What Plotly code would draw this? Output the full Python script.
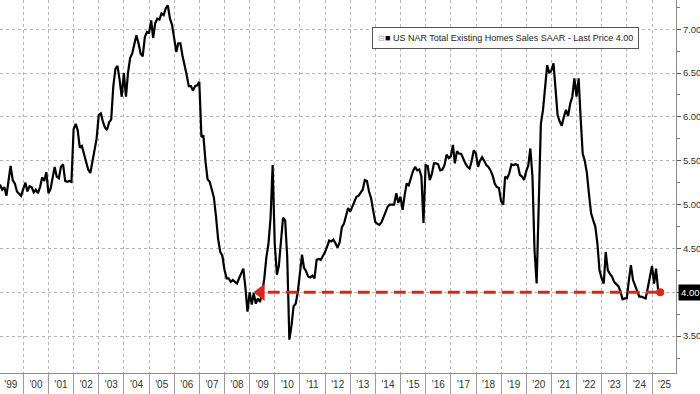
import pandas as pd
import plotly.graph_objects as go

# Monthly US NAR Total Existing Home Sales SAAR (millions), Dec-1998 .. Apr-2025
sales_1998 = [5.22]
sales_1999 = [5.22, 5.17, 5.20, 5.10, 5.30, 5.44, 5.28, 5.24, 5.15, 5.12, 5.10, 5.18]
sales_2000 = [5.25, 5.15, 5.21, 5.20, 5.14, 5.17, 5.13, 5.20, 5.31, 5.27, 5.37, 5.13]
sales_2001 = [5.18, 5.30, 5.43, 5.32, 5.30, 5.43, 5.46, 5.27, 5.26, 5.27, 5.26, 5.86]
sales_2002 = [5.92, 5.85, 5.65, 5.67, 5.58, 5.48, 5.40, 5.36, 5.50, 5.66, 5.75, 6.02]
sales_2003 = [6.04, 5.95, 5.88, 5.85, 5.94, 5.97, 6.35, 6.55, 6.58, 6.42, 6.23, 6.50]
sales_2004 = [6.23, 6.50, 6.67, 6.72, 6.84, 6.93, 6.84, 6.72, 6.69, 6.91, 6.97, 6.96]
sales_2005 = [7.10, 6.90, 7.07, 7.12, 7.11, 7.18, 7.16, 7.24, 7.27, 7.12, 7.05, 6.88]
sales_2006 = [6.74, 6.84, 6.84, 6.70, 6.60, 6.48, 6.35, 6.35, 6.30, 6.35, 6.36, 6.40]
sales_2007 = [5.77, 5.79, 5.49, 5.29, 5.26, 5.17, 5.08, 4.86, 4.61, 4.46, 4.42, 4.26]
sales_2008 = [4.16, 4.16, 4.12, 4.14, 4.12, 4.10, 4.16, 4.22, 4.27, 4.05, 3.78, 4.00]
sales_2009 = [3.86, 3.99, 3.87, 3.93, 3.89, 4.00, 4.15, 4.40, 4.55, 4.85, 5.45, 4.55]
sales_2010 = [4.20, 4.30, 4.62, 4.85, 4.82, 4.40, 3.46, 3.62, 3.84, 3.87, 4.00, 4.20]
sales_2011 = [4.43, 4.28, 4.24, 4.18, 4.17, 4.19, 4.16, 4.37, 4.38, 4.37, 4.41, 4.46]
sales_2012 = [4.52, 4.59, 4.58, 4.60, 4.56, 4.51, 4.57, 4.74, 4.78, 4.86, 4.96, 4.92]
sales_2013 = [4.98, 5.05, 5.09, 5.10, 5.13, 5.17, 5.28, 5.27, 5.15, 5.07, 4.93, 4.80]
sales_2014 = [4.78, 4.77, 4.80, 4.86, 4.93, 4.98, 5.00, 5.00, 5.00, 5.13, 5.02, 5.09]
sales_2015 = [4.94, 5.10, 5.24, 5.22, 5.30, 5.38, 5.43, 5.39, 5.40, 5.32, 4.79, 5.45]
sales_2016 = [5.44, 5.28, 5.35, 5.47, 5.47, 5.46, 5.39, 5.40, 5.45, 5.57, 5.53, 5.55]
sales_2017 = [5.68, 5.47, 5.61, 5.58, 5.58, 5.52, 5.47, 5.43, 5.41, 5.50, 5.62, 5.58]
sales_2018 = [5.43, 5.50, 5.54, 5.50, 5.45, 5.43, 5.39, 5.33, 5.24, 5.20, 5.19, 5.04]
sales_2019 = [5.00, 5.32, 5.30, 5.36, 5.46, 5.45, 5.46, 5.45, 5.34, 5.32, 5.28, 5.38]
sales_2020 = [5.45, 5.64, 5.32, 4.48, 4.10, 5.00, 5.92, 6.08, 6.32, 6.59, 6.50, 6.53]
sales_2021 = [6.61, 6.27, 6.02, 5.95, 5.90, 6.00, 6.08, 6.01, 6.15, 6.23, 6.44, 6.23]
sales_2022 = [6.44, 6.00, 5.58, 5.50, 5.36, 5.12, 4.90, 4.82, 4.75, 4.55, 4.25, 4.16]
sales_2023 = [4.10, 4.46, 4.25, 4.21, 4.18, 4.12, 4.09, 4.07, 4.01, 3.92, 3.93, 3.93]
sales_2024 = [4.14, 4.31, 4.14, 4.08, 4.01, 3.95, 3.95, 3.94, 3.93, 4.05, 4.18, 4.30]
sales_2025 = [4.10, 4.27, 4.02, 4.00]

first_month = "1998-12-01"
y_tick_vals = [3.5, 4.0, 4.5, 5.0, 5.5, 6.0, 6.5, 7.0]
arrow_tip_date = "2009-06-12"
arrow_base_date = "2009-09-20"
legend_text = "US NAR Total Existing Homes Sales SAAR - Last Price 4.00"

values = (sales_1998 + sales_1999 + sales_2000 + sales_2001 + sales_2002 + sales_2003
          + sales_2004 + sales_2005 + sales_2006 + sales_2007 + sales_2008 + sales_2009
          + sales_2010 + sales_2011 + sales_2012 + sales_2013 + sales_2014 + sales_2015
          + sales_2016 + sales_2017 + sales_2018 + sales_2019 + sales_2020 + sales_2021
          + sales_2022 + sales_2023 + sales_2024 + sales_2025)
dates = pd.date_range(first_month, periods=len(values), freq="MS") + pd.offsets.MonthEnd(0)
dates = [d.strftime("%Y-%m-%d") for d in dates]
last_date, last_val = dates[-1], values[-1]
# the last-price tag replaces the regular label at that level
y_tick_text = ["" if abs(v - last_val) < 1e-9 else f"{v:.2f}" for v in y_tick_vals]

RED = "#d7261e"
FONT = "Liberation Sans, Arial, sans-serif"

fig = go.Figure()
fig.add_trace(go.Scatter(x=dates, y=values, mode="lines",
                         line=dict(color="black", width=2.2), hoverinfo="skip"))
fig.add_trace(go.Scatter(x=[arrow_base_date, last_date], y=[last_val, last_val], mode="lines",
                         line=dict(color=RED, width=3, dash="12px,6px"), hoverinfo="skip"))
fig.add_trace(go.Scatter(x=[arrow_tip_date], y=[last_val], mode="markers",
                         marker=dict(symbol="triangle-left", size=15, color=RED),
                         hoverinfo="skip"))
fig.add_trace(go.Scatter(x=[last_date], y=[last_val], mode="markers",
                         marker=dict(symbol="circle", size=8, color=RED), hoverinfo="skip"))

fig.update_layout(
    width=700, height=394,
    margin=dict(l=0, r=24, t=0, b=21),
    paper_bgcolor="white", plot_bgcolor="white",
    showlegend=False,
    font=dict(family=FONT, size=10, color="#333"),
    xaxis=dict(
        type="date", range=["1999-01-27", "2025-12-15"],
        dtick="M12", tick0="1999-01-01", tickformat="'%y", ticklabelmode="period",
        ticks="outside", ticklen=21, tickcolor="#9a9a9a", tickwidth=1,
        ticklabelstandoff=-19,
        showgrid=True, gridcolor="#b5b5b5", griddash="dot", gridwidth=1,
        showline=True, linecolor="#8a8a8a", linewidth=1, zeroline=False,
        tickfont=dict(size=10, color="#333"),
    ),
    yaxis=dict(
        side="right", range=[3.08, 7.333],
        tickmode="array", tickvals=y_tick_vals, ticktext=y_tick_text,
        ticks="outside", ticklen=4, tickcolor="#555",
        minor=dict(dtick=0.25, tick0=0, ticks="outside", ticklen=3, tickcolor="#777", showgrid=False),
        showgrid=True, gridcolor="#b5b5b5", griddash="dot", gridwidth=1,
        showline=True, linecolor="#8a8a8a", linewidth=1, zeroline=False,
        tickfont=dict(size=9.5, color="#333"),
    ),
)

fig.add_annotation(
    xref="paper", yref="y", x=1, y=last_val, xanchor="left", yanchor="middle",
    xshift=2, text="4.00", showarrow=False, bgcolor="black",
    font=dict(color="white", size=9.5, family=FONT), borderpad=2,
)
fig.add_annotation(
    xref="paper", yref="paper", x=0.748, y=0.898, xanchor="center", yanchor="middle",
    text=("<span style='color:#aaa;font-size:8px'>⊟</span>"
          "<span style='color:black'>■</span> " + legend_text),
    showarrow=False, bgcolor="white", bordercolor="#555", borderwidth=1, borderpad=5,
    font=dict(size=9, color="#222", family=FONT),
)

fig.write_html("out.html", config={"displayModeBar": False},
               post_script="document.body.style.margin='0px';")
